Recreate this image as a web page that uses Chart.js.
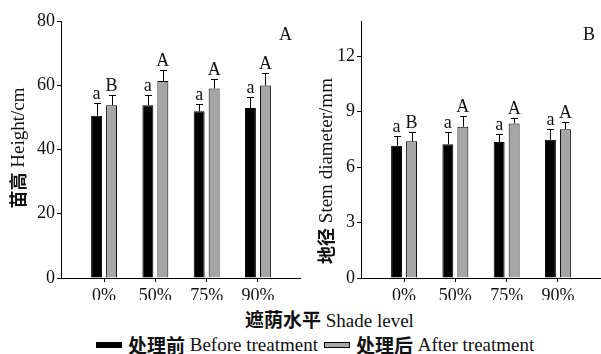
<!DOCTYPE html>
<html>
<head>
<meta charset="utf-8">
<script src="https://cdn.jsdelivr.net/npm/chart.js@4"></script>
<style>
  html,body{margin:0;padding:0;background:#fff;}
  #wrap{position:relative;width:601px;height:354px;overflow:hidden;}
  canvas{position:absolute;top:0;}
  .cjk{font-family:"Noto Sans CJK SC",sans-serif;font-weight:bold;}
  .lat{font-family:"Liberation Serif","Times New Roman",serif;}
  #xtitle{position:absolute;left:245px;top:308px;font-size:19px;line-height:22px;white-space:nowrap;color:#111;}
  #legend{position:absolute;left:96px;top:334px;font-size:19px;line-height:22px;white-space:nowrap;display:flex;align-items:center;color:#111;}
  #legend .item{display:flex;align-items:center;margin-right:6px;}
  #legend .box{width:26px;height:6px;border:1px solid #000;box-sizing:border-box;margin-right:6px;}
</style>
</head>
<body>
<div id="wrap">
  <canvas id="chartA" width="301" height="300" style="left:0"></canvas>
  <canvas id="chartB" width="301" height="300" style="left:300px"></canvas>
  <div id="xtitle"><span class="cjk">遮荫水平</span><span class="lat"> Shade level</span></div>
  <div id="legend"></div>
</div>
<script>
// ── data ─────────────────────────────────────────────────────────────
const shadeLevels   = ['0%','50%','75%','90%'];
const seriesCjk     = ['处理前','处理后'];
const seriesEn      = ['Before treatment','After treatment'];
const seriesColors  = ['#000000','#a6a6a6'];

const heightBefore    = [50.5, 53.8, 51.9, 52.9];
const heightBeforeErr = [4.1, 3.3, 2.3, 3.4];
const heightAfter     = [53.8, 61.3, 59.0, 59.9];
const heightAfterErr  = [3.3, 3.5, 3.0, 3.8];
const heightBeforeSig = ['a','a','a','a'];
const heightAfterSig  = ['B','A','A','A'];
const heightTicks     = [0, 20, 40, 60, 80];

const diamBefore    = [7.15, 7.24, 7.35, 7.48];
const diamBeforeErr = [0.53, 0.65, 0.45, 0.57];
const diamAfter     = [7.39, 8.18, 8.36, 8.05];
const diamAfterErr  = [0.52, 0.56, 0.32, 0.40];
const diamBeforeSig = ['a','a','a','a'];
const diamAfterSig  = ['B','A','A','A'];
const diamTicks     = [0, 3, 6, 9, 12];

const SERIF = '"Liberation Serif","Times New Roman",serif';
const CJK   = '"Noto Sans CJK SC",sans-serif';
const tickFont = {family:SERIF, size:18};
Chart.defaults.font.family = SERIF;
Chart.defaults.font.size = 18;
Chart.defaults.color = '#111';

// ── error bars + significance letters + panel tag + y title ─────────
const decor = {
  id:'decor',
  afterDatasetsDraw(chart, args, o){
    const ctx = chart.ctx, y = chart.scales.y, ca = chart.chartArea;
    ctx.save();
    ctx.strokeStyle = '#000'; ctx.lineWidth = 1;
    ctx.fillStyle = '#111';
    ctx.font = '18px ' + SERIF;
    ctx.textAlign = 'center'; ctx.textBaseline = 'alphabetic';
    chart.data.datasets.forEach((ds, di) => {
      chart.getDatasetMeta(di).data.forEach((bar, i) => {
        const top = Math.round(y.getPixelForValue(ds.data[i].y + ds.err[i])) + 0.5;
        const x = Math.round(bar.x) + 0.5;
        ctx.beginPath();
        ctx.moveTo(x, bar.y); ctx.lineTo(x, top);
        ctx.moveTo(x - 3.5, top); ctx.lineTo(x + 3.5, top);
        ctx.stroke();
        ctx.fillText(ds.sig[i], bar.x, top - 5);
      });
    });
    // panel tag
    ctx.textAlign = 'right';
    ctx.fillText(o.tag, ca.right - o.tagDx, 40);
    // y-axis title, mixed CJK bold + serif
    ctx.translate(o.titleX, o.titleY);
    ctx.rotate(-Math.PI/2);
    ctx.textAlign = 'left'; ctx.textBaseline = 'middle';
    ctx.font = 'bold 18px ' + CJK;
    const w1 = ctx.measureText(o.titleCjk).width;
    ctx.font = '19px ' + SERIF;
    const w2 = ctx.measureText(' ' + o.titleEn).width;
    const sx = -(w1 + w2) / 2;
    ctx.font = 'bold 18px ' + CJK;
    ctx.fillText(o.titleCjk, sx, 0);
    ctx.font = '19px ' + SERIF;
    ctx.fillText(' ' + o.titleEn, sx + w1, 1);
    ctx.restore();
  }
};

function makeChart(id, before, beforeErr, beforeSig, after, afterErr, afterSig, yMax, yTicks, deco){
  const pts = arr => arr.map((v, i) => ({x:i, y:v}));
  return new Chart(document.getElementById(id), {
    type:'bar',
    data:{datasets:[
      {label:seriesEn[0], data:pts(before), err:beforeErr, sig:beforeSig,
       backgroundColor:seriesColors[0], borderColor:'#000', borderWidth:1},
      {label:seriesEn[1], data:pts(after), err:afterErr, sig:afterSig,
       backgroundColor:seriesColors[1], borderColor:'#000', borderWidth:1}
    ]},
    options:{
      responsive:false, animation:false, devicePixelRatio:1,
      categoryPercentage:0.585, barPercentage:0.73,
      layout:{padding:{top:21, left:0, right:0, bottom:0}},
      plugins:{legend:{display:false}, tooltip:{enabled:false}, decor:deco},
      scales:{
        x:{type:'linear', min:-0.84, max:3.84, offset:false,
           afterBuildTicks:s=>{ s.ticks = shadeLevels.map((_, i) => ({value:i})); },
           afterFit:s=>{ s.height = 22; },
           ticks:{callback:v=>shadeLevels[v] ?? '', padding:3, maxRotation:0, autoSkip:false, color:'#111', font:tickFont},
           grid:{offset:false, drawOnChartArea:false, drawTicks:true, tickLength:4, color:'#000'},
           border:{display:true, color:'#000', width:1}},
        y:{min:0, max:yMax,
           afterBuildTicks:s=>{ s.ticks = yTicks.map(v => ({value:v})); },
           afterFit:s=>{ s.width = 61; },
           ticks:{padding:2, color:'#111', font:tickFont},
           grid:{drawOnChartArea:false, drawTicks:true, tickLength:4, color:'#000'},
           border:{display:true, color:'#000', width:1}}
      }
    },
    plugins:[decor]
  });
}

makeChart('chartA', heightBefore, heightBeforeErr, heightBeforeSig,
          heightAfter, heightAfterErr, heightAfterSig, 80, heightTicks,
          {tag:'A', tagDx:9, titleX:18, titleY:148, titleCjk:'苗高', titleEn:'Height/cm'});
makeChart('chartB', diamBefore, diamBeforeErr, diamBeforeSig,
          diamAfter, diamAfterErr, diamAfterSig, 13.9, diamTicks,
          {tag:'B', tagDx:6, titleX:26, titleY:171, titleCjk:'地径', titleEn:'Stem diameter/mm'});

// legend as html
document.getElementById('legend').innerHTML = seriesCjk.map((c, i) =>
  `<div class="item"><div class="box" style="background:${seriesColors[i]}"></div>` +
  `<span class="cjk">${c}</span><span class="lat">&nbsp;${seriesEn[i]}</span></div>`
).join('');
</script>
</body>
</html>
